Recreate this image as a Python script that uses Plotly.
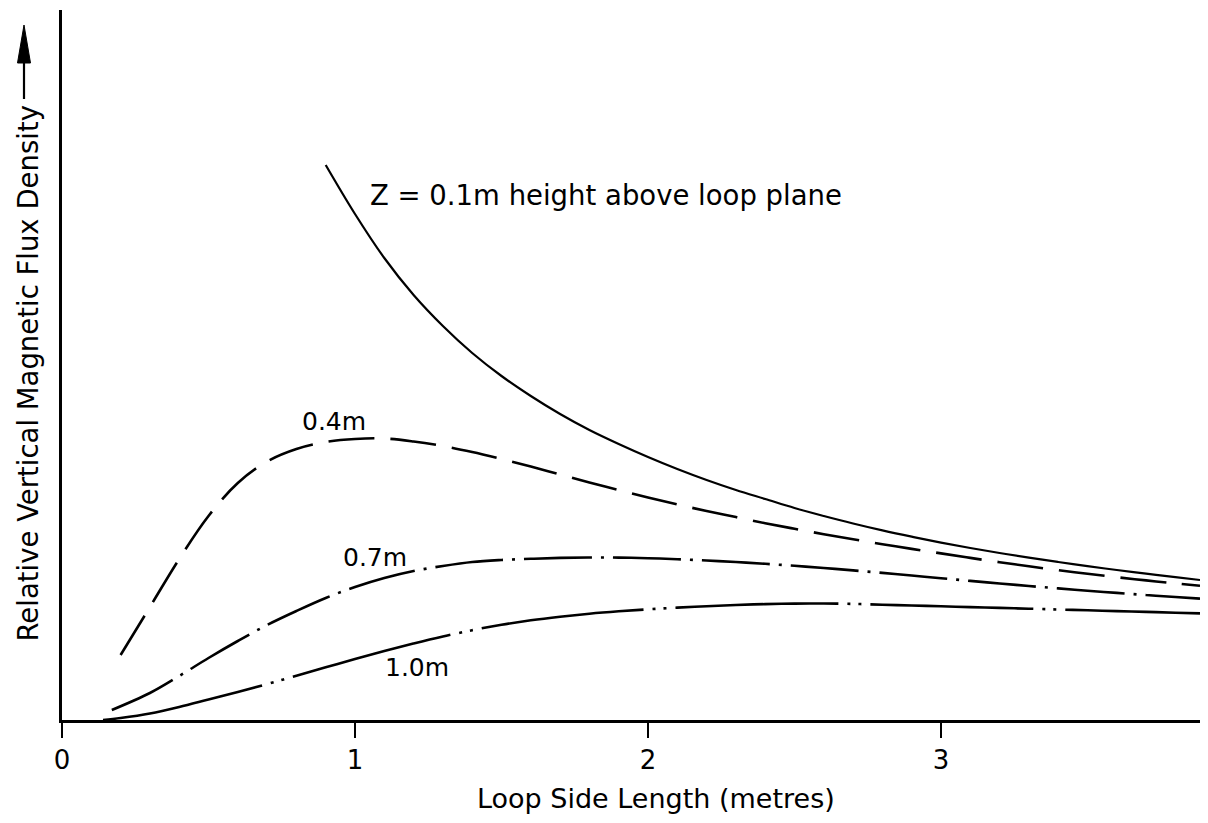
import plotly.graph_objects as go

# Loop side length (m) and relative vertical flux density (arbitrary units)
z01_x = [0.90, 1.0, 1.1, 1.2, 1.3, 1.4, 1.5, 1.6, 1.7, 1.8, 1.9, 2.0, 2.1, 2.2, 2.3, 2.4, 2.5, 2.6, 2.7, 2.8,
         2.9, 3.0, 3.1, 3.2, 3.3, 3.4, 3.5, 3.6, 3.7, 3.8, 3.884]
z01_y = [5.55, 5.06, 4.62, 4.25, 3.94, 3.67, 3.44, 3.24, 3.06, 2.90, 2.76, 2.63, 2.51, 2.40, 2.30, 2.21, 2.12, 2.04, 1.965, 1.896,
         1.833, 1.774, 1.72, 1.67, 1.623, 1.58, 1.539, 1.50, 1.463, 1.428, 1.40]

z04_x = [0.2, 0.3, 0.4, 0.5, 0.6, 0.7, 0.8, 0.9, 1.0, 1.1, 1.2, 1.3, 1.4, 1.5, 1.6, 1.7, 1.8, 1.9, 2.0, 2.1,
         2.2, 2.3, 2.4, 2.5, 2.6, 2.7, 2.8, 2.9, 3.0, 3.1, 3.2, 3.3, 3.4, 3.5, 3.6, 3.7, 3.8, 3.884]
z04_y = [0.65, 1.13, 1.61, 2.04, 2.37, 2.585, 2.71, 2.78, 2.81, 2.815, 2.785, 2.74, 2.68, 2.61, 2.535, 2.455, 2.375, 2.30, 2.225, 2.155,
         2.09, 2.029, 1.968, 1.912, 1.858, 1.807, 1.758, 1.711, 1.666, 1.621, 1.578, 1.537, 1.498, 1.462, 1.428, 1.396, 1.366, 1.342]

z07_x = [0.17, 0.3, 0.4, 0.5, 0.6, 0.7, 0.8, 0.9, 1.0, 1.1, 1.2, 1.3, 1.4, 1.5, 1.6, 1.7, 1.8, 1.9, 2.0, 2.1,
         2.2, 2.3, 2.4, 2.5, 2.6, 2.7, 2.8, 2.9, 3.0, 3.1, 3.2, 3.3, 3.4, 3.5, 3.6, 3.7, 3.8, 3.884]
z07_y = [0.10, 0.27, 0.44, 0.62, 0.79, 0.95, 1.09, 1.22, 1.33, 1.42, 1.49, 1.54, 1.58, 1.60, 1.612, 1.621, 1.625, 1.624, 1.618, 1.608,
         1.595, 1.58, 1.562, 1.542, 1.52, 1.496, 1.471, 1.445, 1.418, 1.391, 1.365, 1.34, 1.316, 1.293, 1.271, 1.25, 1.23, 1.214]

z10_x = [0.14, 0.2, 0.3, 0.4, 0.5, 0.6, 0.7, 0.8, 0.9, 1.0, 1.1, 1.2, 1.3, 1.4, 1.5, 1.6, 1.7, 1.8, 1.9, 2.0,
         2.1, 2.2, 2.3, 2.4, 2.5, 2.6, 2.7, 2.8, 2.9, 3.0, 3.1, 3.2, 3.3, 3.4, 3.5, 3.6, 3.7, 3.8, 3.884]
z10_y = [0.00, 0.02, 0.065, 0.13, 0.205, 0.28, 0.36, 0.443, 0.527, 0.61, 0.69, 0.765, 0.835, 0.898, 0.952, 0.997, 1.033, 1.063, 1.087, 1.107,
         1.124, 1.138, 1.150, 1.159, 1.164, 1.165, 1.161, 1.153, 1.145, 1.137, 1.129, 1.121, 1.113, 1.105, 1.097, 1.089, 1.081, 1.073, 1.066]

x_ticks = [0, 1, 2, 3]
x_tick_labels = ["0", "1", "2", "3"]

labels = ["Z = 0.1m height above loop plane", "0.4m", "0.7m", "1.0m"]
label_x = [1.044, 0.928, 1.068, 1.212]
label_y = [5.25, 2.985, 1.63, 0.53]

FONT = "DejaVu Sans"
BLACK = "#000000"

# plot area in pixels (for placing decorations outside the axes)
L, R, T, B = 62, 1200, 10, 720
def px(xp):
    return (xp - L) / (R - L)
def py(yp):
    return (B - yp) / (B - T)

fig = go.Figure()
series = [
    (z01_x, z01_y, "solid", 2.2),
    (z04_x, z04_y, "46px,16px", 2.6),
    (z07_x, z07_y, "68px,9px,3px,9px", 2.6),
    (z10_x, z10_y, "163px,9px,3px,8px,3px,9px", 2.6),
]
for xs, ys, dash, w in series:
    fig.add_trace(go.Scatter(
        x=xs, y=ys, mode="lines",
        line=dict(color=BLACK, width=w, dash=dash, shape="spline", smoothing=1.0),
        showlegend=False, hoverinfo="skip",
    ))

annotations = []
for i, (t, lx, ly) in enumerate(zip(labels, label_x, label_y)):
    annotations.append(dict(
        x=lx, y=ly, xref="x", yref="y", text=t, showarrow=False,
        xanchor="left" if i == 0 else "center", yanchor="middle",
        font=dict(family=FONT, size=27.5 if i == 0 else 25, color=BLACK),
    ))

# y-axis title (rotated)
annotations.append(dict(
    x=px(27), y=py(373.5), xref="paper", yref="paper",
    text="Relative Vertical Magnetic Flux Density", showarrow=False,
    textangle=-90, xanchor="center", yanchor="middle",
    font=dict(family=FONT, size=27.5, color=BLACK),
))
# x-axis title
annotations.append(dict(
    x=px(656), y=py(798), xref="paper", yref="paper",
    text="Loop Side Length (metres)", showarrow=False,
    xanchor="center", yanchor="middle",
    font=dict(family=FONT, size=27, color=BLACK),
))

# arrow next to the y title
shapes = [
    dict(type="line", xref="paper", yref="paper",
         x0=px(24), y0=py(99), x1=px(24), y1=py(60),
         line=dict(color=BLACK, width=2.2)),
    dict(type="path", xref="paper", yref="paper",
         path=f"M {px(24)},{py(25)} L {px(17.5)},{py(63)} L {px(30.5)},{py(63)} Z",
         fillcolor=BLACK, line=dict(color=BLACK, width=1)),
]

fig.update_layout(
    width=1208, height=823,
    margin=dict(l=L, r=1208 - R, t=T, b=823 - B),
    paper_bgcolor="white", plot_bgcolor="white",
    annotations=annotations, shapes=shapes,
    xaxis=dict(
        range=[0, 3.884], tickvals=x_ticks, ticktext=x_tick_labels,
        showline=True, linecolor=BLACK, linewidth=2.5,
        ticks="outside", ticklen=15, tickwidth=2, tickcolor=BLACK,
        tickfont=dict(family=FONT, size=26, color=BLACK),
        showgrid=False, zeroline=False,
    ),
    yaxis=dict(
        range=[0, 7.10], showline=True, linecolor=BLACK, linewidth=2.5,
        showticklabels=False, ticks="", showgrid=False, zeroline=False,
    ),
)

fig.write_html("out.html")
